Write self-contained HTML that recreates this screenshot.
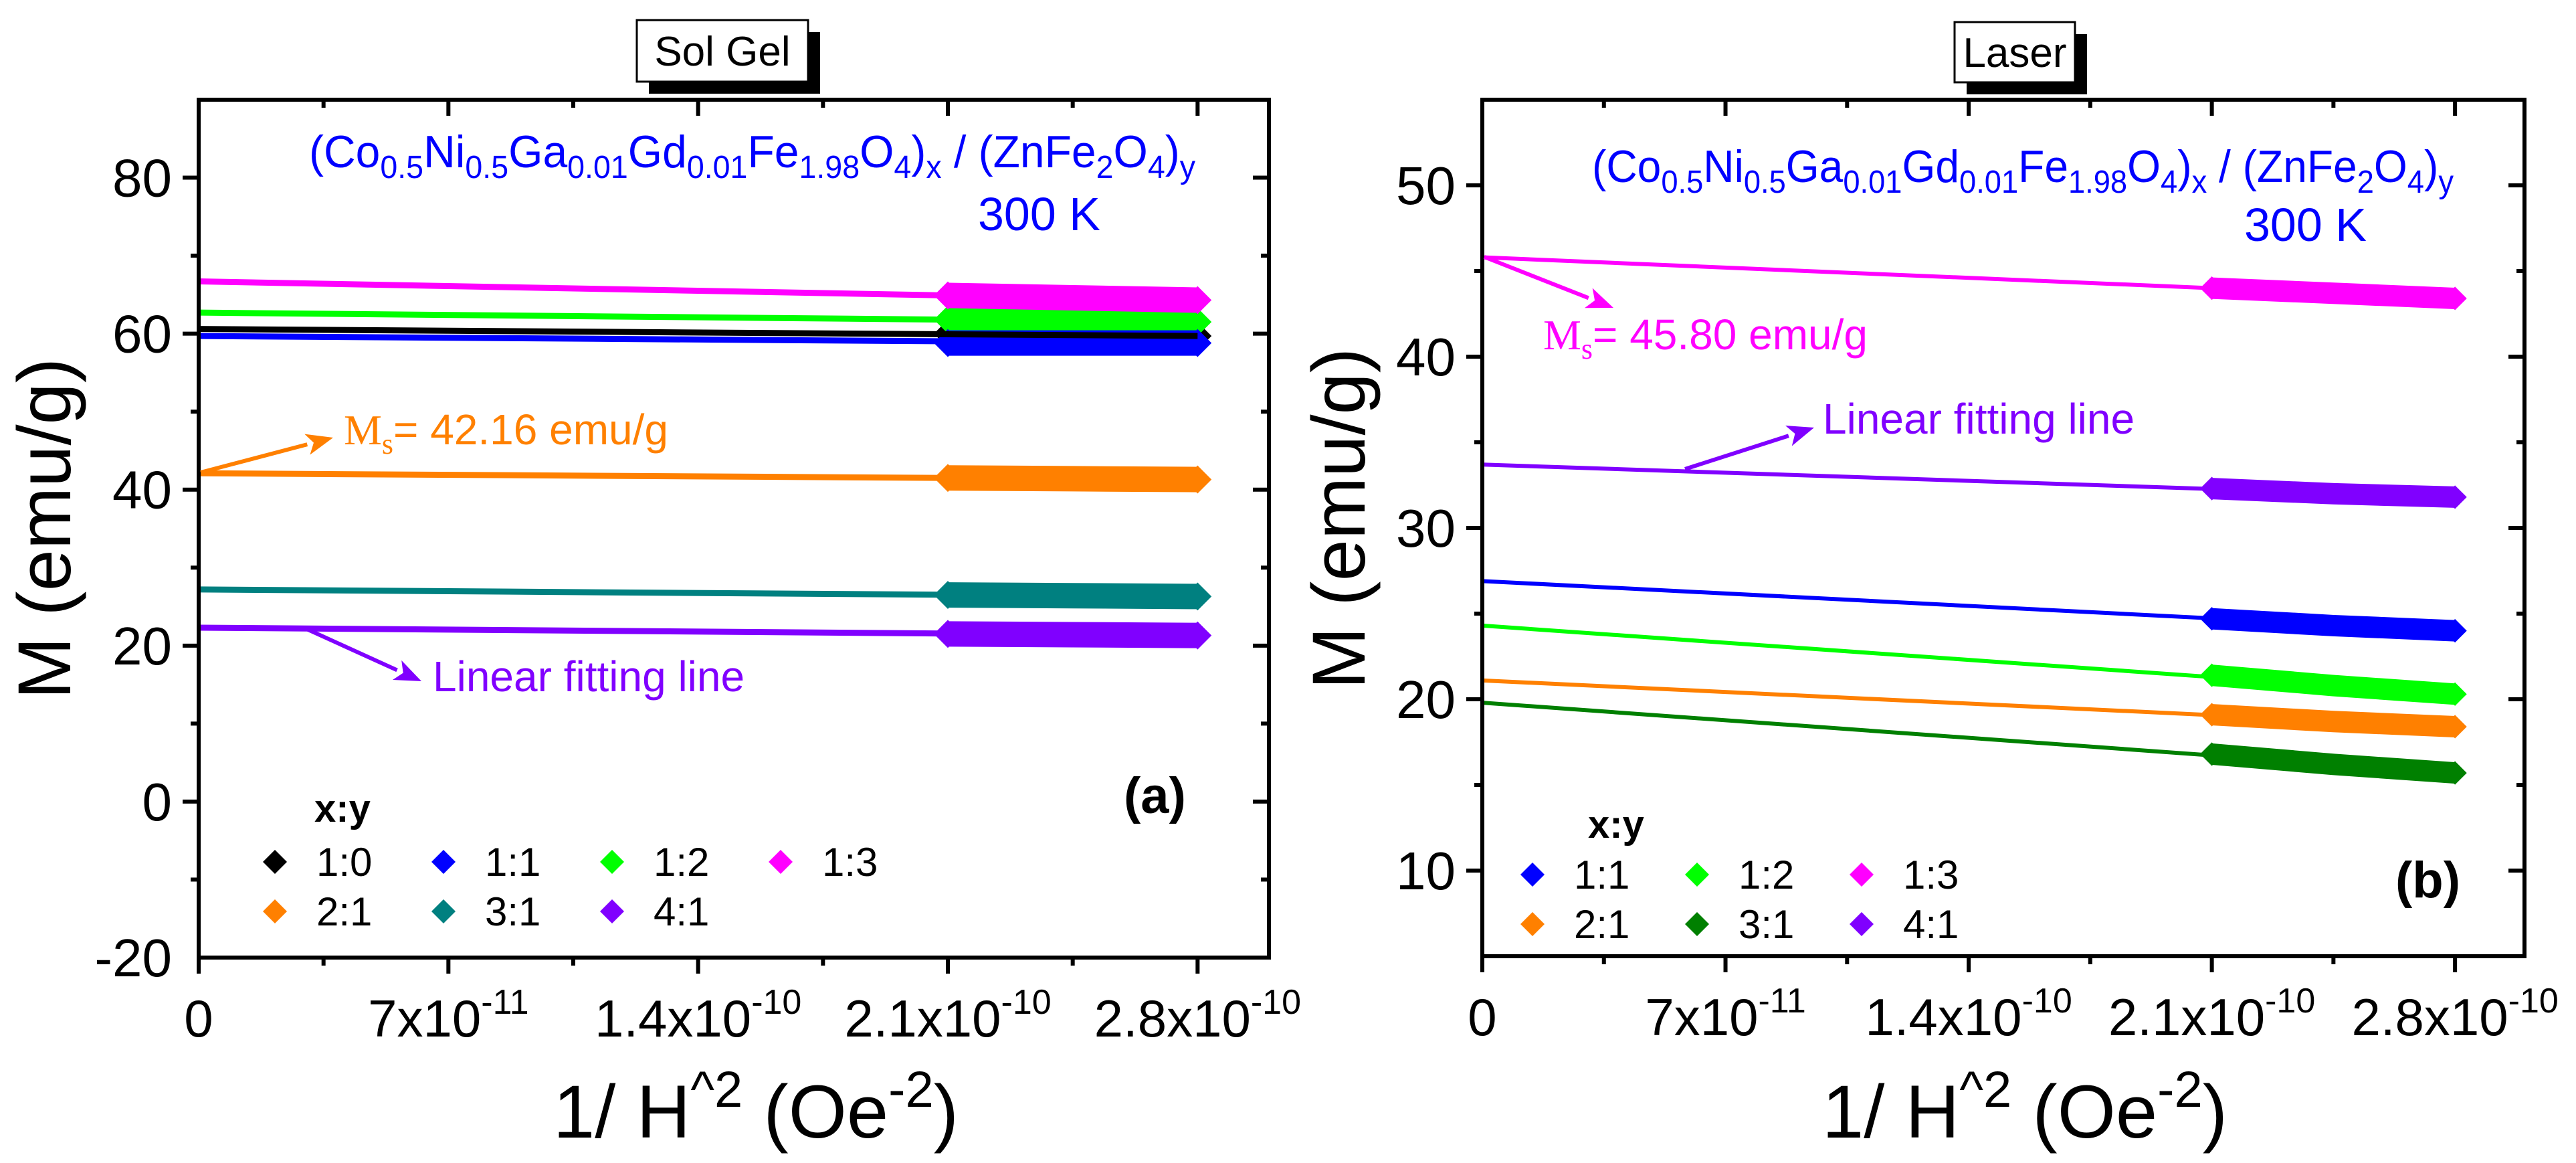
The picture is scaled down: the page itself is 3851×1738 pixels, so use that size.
<!DOCTYPE html>
<html><head><meta charset="utf-8">
<style>
html,body{margin:0;padding:0;background:#fff;}
svg{display:block;font-family:"Liberation Sans",Arial,sans-serif;}
</style></head>
<body>
<svg id="chart" width="3851" height="1738" viewBox="0 0 3851 1738" xmlns="http://www.w3.org/2000/svg">
<g id="panelA"></g>
<g id="panelB"></g>
</svg>
<script>
// ---------- shared x data ----------
const xTickValues = [0, 7e-11, 1.4e-10, 2.1e-10, 2.8e-10];
const xTickMant = ['0', '7x10', '1.4x10', '2.1x10', '2.8x10'];
const xTickExp = ['', '-11', '-10', '-10', '-10'];
const dataX = [2.1e-10, 2.45e-10, 2.8e-10];

// ---------- panel A (Sol Gel) ----------
const solLabels = ['1:0', '1:1', '1:2', '1:3', '2:1', '3:1', '4:1'];
const solColors = ['#000000', '#0000ff', '#00ff00', '#ff00ff', '#ff8000', '#008080', '#8000ff'];
const solIntercept = [60.6, 59.7, 62.7, 66.7, 42.1, 27.2, 22.3];
const solStart = [60.0, 58.8, 61.8, 64.9, 41.5, 26.5, 21.5];
const solMid = [59.8, 58.8, 61.6, 64.6, 41.4, 26.4, 21.4];
const solEnd = [59.7, 58.8, 61.5, 64.3, 41.3, 26.3, 21.3];
const solYTicks = [-20, 0, 20, 40, 60, 80];

// ---------- panel B (Laser) ----------
const lasLabels = ['1:1', '1:2', '1:3', '2:1', '3:1', '4:1'];
const lasColors = ['#0000ff', '#00ff00', '#ff00ff', '#ff8000', '#008000', '#8000ff'];
const lasIntercept = [26.9, 24.3, 45.8, 21.1, 19.8, 33.7];
const lasStart = [24.7, 21.4, 44.0, 19.1, 16.8, 32.3];
const lasMid = [24.3, 20.8, 43.7, 18.7, 16.2, 32.0];
const lasEnd = [24.0, 20.3, 43.4, 18.4, 15.7, 31.8];
const lasYTicks = [10, 20, 30, 40, 50];

const NS = 'http://www.w3.org/2000/svg';
function mk(parent, tag, attrs, text) {
  const e = document.createElementNS(NS, tag);
  for (const k in attrs) e.setAttribute(k, attrs[k]);
  if (text !== undefined) e.textContent = text;
  parent.appendChild(e);
  return e;
}

function drawPanel(g, cfg) {
  const sx = v => cfg.x0 + (v - cfg.xmin) / (cfg.xmax - cfg.xmin) * (cfg.x1 - cfg.x0);
  const sy = v => cfg.y1 - (v - cfg.ymin) / (cfg.ymax - cfg.ymin) * (cfg.y1 - cfg.y0);

  const tb = cfg.title;
  const sh = mk(g, 'rect', {x: tb.x + 18, y: tb.y + 18, width: tb.w, height: tb.h, fill: '#000'});
  
  
  const bx = mk(g, 'rect', {x: tb.x, y: tb.y, width: tb.w, height: tb.h, fill: '#fff', stroke: '#000', 'stroke-width': 3});
  
  
  const tt = mk(g, 'text', {x: tb.x + tb.w / 2, y: tb.y + tb.h / 2 + 22, 'font-size': 62, 'text-anchor': 'middle', fill: '#000'}, tb.text);
  
  

  const sg = mk(g, 'g', {});
  
  
  cfg.order.forEach(i => {
    const vals = [cfg.start[i], cfg.mid[i], cfg.end[i]];
    const pts = dataX.map((x, j) => sx(x) + ',' + sy(vals[j])).join(' ');
    const band = mk(sg, 'polyline', {points: pts, fill: 'none', stroke: cfg.colors[i], 'stroke-width': cfg.band});
    
    
    [0, dataX.length - 1].forEach(j => {
      const cx = sx(dataX[j]), cy = sy(vals[j]), hw = cfg.band * 0.55, hh = cfg.band * 0.55;
      const d = mk(sg, 'polygon', {points: `${cx - hw},${cy} ${cx},${cy - hh} ${cx + hw},${cy} ${cx},${cy + hh}`, fill: cfg.colors[i]});
      
      
    });
  });
  cfg.order.forEach(i => {
    const fl = mk(sg, 'line', {x1: sx(0), y1: sy(cfg.intercept[i]), x2: sx(dataX[dataX.length - 1]), y2: sy(cfg.end[i]), stroke: cfg.colors[i], 'stroke-width': cfg.lw});
    
    
  });

  const fr = mk(g, 'rect', {x: cfg.x0, y: cfg.y0, width: cfg.x1 - cfg.x0, height: cfg.y1 - cfg.y0, fill: 'none', stroke: '#000', 'stroke-width': 6});
  
  

  const step = 3.5e-11;
  for (let k = 0; k * step <= cfg.xmax + 1e-15; k++) {
    const v = k * step, X = sx(v), L = (k % 2 === 0) ? 24 : 12;
    if (X > cfg.x1 - 3) continue;
    const t1 = mk(g, 'line', {x1: X, y1: cfg.y1, x2: X, y2: cfg.y1 + L, stroke: '#000', 'stroke-width': 6});
    
    
    const t2 = mk(g, 'line', {x1: X, y1: cfg.y0, x2: X, y2: cfg.y0 + L, stroke: '#000', 'stroke-width': 6});
    
    
  }
  xTickValues.forEach((v, i) => {
    const t = mk(g, 'text', {x: sx(v), y: cfg.y1 + 118, 'font-size': 78, 'text-anchor': 'middle', fill: '#000'});
    
    
    mk(t, 'tspan', {}, xTickMant[i]);
    if (xTickExp[i]) mk(t, 'tspan', {'font-size': 52, dy: -34}, xTickExp[i]);
  });

  for (let v = cfg.ymin; v <= cfg.ymax + 1e-9; v += cfg.minor) {
    const Y = sy(v);
    if (Y < cfg.y0 + 3 || Y > cfg.y1 - 3) continue;
    const isMaj = cfg.yticks.some(t => Math.abs(t - v) < 1e-9);
    const L = isMaj ? 24 : 12;
    const a = mk(g, 'line', {x1: cfg.x0 - L, y1: Y, x2: cfg.x0, y2: Y, stroke: '#000', 'stroke-width': 6});
    
    
    const b = mk(g, 'line', {x1: cfg.x1 - L, y1: Y, x2: cfg.x1, y2: Y, stroke: '#000', 'stroke-width': 6});
    
    
  }
  cfg.yticks.forEach(v => {
    const t = mk(g, 'text', {x: cfg.x0 - 40, y: sy(v) + 28, 'font-size': 80, 'text-anchor': 'end', fill: '#000'}, String(v));
    
    
  });

  const yt = mk(g, 'text', {x: 0, y: 0, 'font-size': 112, 'text-anchor': 'middle', fill: '#000', transform: `translate(${cfg.yTitleX},${cfg.yTitleY}) rotate(-90)`}, 'M (emu/g)');
  
  
  const xt = mk(g, 'text', {x: cfg.xTitleX, y: 1700, 'font-size': 112, 'text-anchor': 'middle', fill: '#000'});
  
  
  mk(xt, 'tspan', {}, '1/ H');
  mk(xt, 'tspan', {'font-size': 76, dy: -46}, '^2');
  mk(xt, 'tspan', {dy: 46}, ' (Oe');
  mk(xt, 'tspan', {'font-size': 76, dy: -46}, '-2');
  mk(xt, 'tspan', {dy: 46}, ')');

  const f = mk(g, 'text', {x: cfg.formX, y: cfg.formY, 'font-size': 68, fill: '#0000ff', textLength: cfg.formW, lengthAdjust: 'spacingAndGlyphs'});
  
  
  const parts = [['(Co', 0], ['0.5', 1], ['Ni', 0], ['0.5', 1], ['Ga', 0], ['0.01', 1], ['Gd', 0], ['0.01', 1], ['Fe', 0], ['1.98', 1], ['O', 0], ['4', 1], [')', 0], ['x', 1], [' / (ZnFe', 0], ['2', 1], ['O', 0], ['4', 1], [')', 0], ['y', 1]];
  let sub = false;
  parts.forEach(p => {
    const at = {};
    if (p[1] && !sub) { at.dy = 16; at['font-size'] = 48; sub = true; }
    else if (p[1]) { at['font-size'] = 48; }
    else if (!p[1] && sub) { at.dy = -16; sub = false; }
    mk(f, 'tspan', at, p[0]);
  });
  const k = mk(g, 'text', {x: cfg.kX, y: cfg.kY, 'font-size': 70, fill: '#0000ff'}, '300 K');
  
  

  const pl = mk(g, 'text', {x: cfg.letterX, y: cfg.letterY, 'font-size': 76, 'font-weight': 'bold', fill: '#000'}, cfg.letter);
  
  

  const lh = mk(g, 'text', {x: cfg.leg.hx, y: cfg.leg.hy, 'font-size': 58, 'font-weight': 'bold', fill: '#000'}, 'x:y');
  
  
  cfg.labels.forEach((lab, i) => {
    const col = i % cfg.leg.cols, row = Math.floor(i / cfg.leg.cols);
    const cx = cfg.leg.x + col * cfg.leg.dx, cy = cfg.leg.y + row * cfg.leg.dy;
    const eg = mk(g, 'g', {});
    
    
    mk(eg, 'polygon', {points: `${cx - 18},${cy} ${cx},${cy - 18} ${cx + 18},${cy} ${cx},${cy + 18}`, fill: cfg.colors[i]});
    mk(eg, 'text', {x: cx + cfg.leg.tx, y: cy + 21, 'font-size': 60, fill: '#000'}, lab);
  });

  cfg.notes.forEach(n => {
    const ag = mk(g, 'g', {});
    
    
    const ang = Math.atan2(n.y2 - n.y1, n.x2 - n.x1);
    const hx = n.x2 - 40 * Math.cos(ang), hy = n.y2 - 40 * Math.sin(ang);
    mk(ag, 'line', {x1: n.x1, y1: n.y1, x2: hx, y2: hy, stroke: n.color, 'stroke-width': 6});
    const px = -Math.sin(ang) * 16, py = Math.cos(ang) * 16;
    mk(ag, 'polygon', {points: `${n.x2},${n.y2} ${hx + px},${hy + py} ${hx + 10 * Math.cos(ang)},${hy + 10 * Math.sin(ang)} ${hx - px},${hy - py}`, fill: n.color});
    const t = mk(ag, 'text', {x: n.tx, y: n.ty, 'font-size': 64, fill: n.color});
    if (n.ms) {
      mk(t, 'tspan', {'font-family': '"Liberation Serif", serif'}, 'M');
      mk(t, 'tspan', {'font-size': 44, dy: 14, 'font-family': '"Liberation Serif", serif'}, 's');
      mk(t, 'tspan', {dy: -14}, n.text);
    } else t.textContent = n.text;
  });
}

drawPanel(document.getElementById('panelA'), {
  x0: 297, x1: 1897, y0: 149, y1: 1431, xmin: 0, xmax: 3e-10, ymin: -20, ymax: 90, minor: 10,
  yticks: solYTicks, labels: solLabels, colors: solColors, intercept: solIntercept,
  start: solStart, mid: solMid, end: solEnd, order: [0, 2, 3, 4, 5, 6, 1], band: 38, lw: 9,
  title: {x: 952, y: 30, w: 256, h: 92, text: 'Sol Gel'},
  yTitleX: 105, yTitleY: 790, xTitleX: 1130,
  formX: 462, formY: 250, formW: 1325, kX: 1462, kY: 344,
  letter: '(a)', letterX: 1680, letterY: 1215,
  leg: {hx: 470, hy: 1228, x: 411, y: 1288, cols: 4, dx: 252, dy: 74, tx: 62},
  notes: [
    {name: 'ms-annotation', color: '#ff8000', x1: 300, y1: 706, x2: 498, y2: 654, tx: 514, ty: 664, ms: true, text: '= 42.16 emu/g'},
    {name: 'fit-line-annotation', color: '#8000ff', x1: 454, y1: 938, x2: 630, y2: 1018, tx: 647, ty: 1033, text: 'Linear fitting line'}
  ]
});

drawPanel(document.getElementById('panelB'), {
  x0: 2216, x1: 3774, y0: 149, y1: 1429, xmin: 0, xmax: 3e-10, ymin: 5, ymax: 55, minor: 5,
  yticks: lasYTicks, labels: lasLabels, colors: lasColors, intercept: lasIntercept,
  start: lasStart, mid: lasMid, end: lasEnd, order: [0, 1, 2, 3, 4, 5], band: 32, lw: 6,
  title: {x: 2922, y: 33, w: 180, h: 90, text: 'Laser'},
  yTitleX: 2040, yTitleY: 775, xTitleX: 3027,
  formX: 2380, formY: 272, formW: 1288, kX: 3355, kY: 360,
  letter: '(b)', letterX: 3581, letterY: 1341,
  leg: {hx: 2374, hy: 1252, x: 2291, y: 1307, cols: 3, dx: 246, dy: 74, tx: 62},
  notes: [
    {name: 'ms-annotation', color: '#ff00ff', x1: 2219, y1: 384, x2: 2412, y2: 460, tx: 2307, ty: 522, ms: true, text: '= 45.80 emu/g'},
    {name: 'fit-line-annotation', color: '#8000ff', x1: 2519, y1: 701, x2: 2712, y2: 639, tx: 2725, ty: 648, text: 'Linear fitting line'}
  ]
});
</script>
</body></html>
